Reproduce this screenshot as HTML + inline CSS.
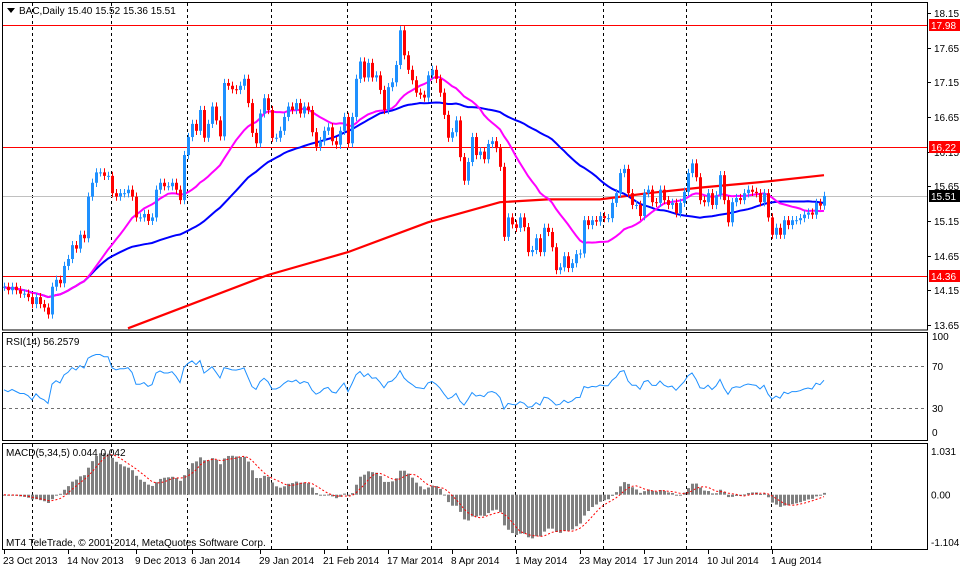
<!DOCTYPE html>
<html><head><meta charset="utf-8"><style>
html,body{margin:0;padding:0;background:#fff;}
svg{display:block;font-family:"Liberation Sans",Tahoma,sans-serif;font-size:10px;}
</style></head><body>
<svg id="c" width="967" height="568" viewBox="0 0 967 568" xmlns="http://www.w3.org/2000/svg">
<rect x="0" y="0" width="967" height="568" fill="#fff"/>
<g id="grid"></g>
<g id="main"></g>
<g id="rsi"></g>
<g id="macd"></g>
<g id="axes"></g>
<rect x="2.5" y="2.5" width="925" height="327.5" fill="none" stroke="#000"/>
<rect x="2.5" y="332.5" width="925" height="108" fill="none" stroke="#000"/>
<rect x="2.5" y="443.5" width="925" height="106" fill="none" stroke="#000"/>
<polygon points="7,8 15,8 11,13" fill="#000"/>
<text x="19" y="14" fill="#000">BAC,Daily  15.40 15.52 15.36 15.51</text>
<text x="6" y="345" fill="#000">RSI(14) 56.2579</text>
<text x="6" y="456" fill="#000">MACD(5,34,5) 0.044 0.042</text>
<text x="6" y="546" fill="#000">MT4 TeleTrade, © 2001-2014, MetaQuotes Software Corp.</text>
</svg>
<script>
const closes=[14.2,14.15,14.2,14.15,14.1,14.1,14.05,13.95,14.05,13.95,
13.9,13.8,14.2,14.3,14.25,14.5,14.6,14.8,14.75,14.95,
14.9,15.5,15.7,15.85,15.85,15.8,15.8,15.55,15.5,15.55,
15.55,15.6,15.5,15.2,15.2,15.25,15.15,15.2,15.6,15.7,
15.65,15.65,15.7,15.6,15.45,16.1,16.36,16.55,16.45,16.75,
16.35,16.55,16.8,16.6,16.37,17.14,17.1,17.05,17.04,17.1,
17.2,16.85,16.42,16.27,16.7,16.92,16.75,
16.35,16.35,16.45,16.65,16.8,16.75,16.85,16.7,16.8,16.75,
16.43,16.22,16.3,16.45,16.5,16.3,16.25,16.45,16.65,16.27,
16.65,17.2,17.45,17.22,17.43,17.22,17.25,17.04,16.75,17.08,
17.15,17.4,17.9,17.54,17.33,17.18,17.0,16.97,16.93,17.25,
17.33,17.2,17.0,16.68,16.35,16.43,16.6,16.07,15.73,16.0,
16.36,16.1,16.15,16.04,16.26,16.3,16.2,15.93,14.92,15.2,
15.1,15.05,15.2,15.06,14.7,14.73,14.9,14.7,15.05,
14.99,14.77,14.44,14.48,14.64,14.47,14.54,14.67,14.68,15.16,
15.09,15.16,15.14,15.22,15.19,15.19,15.41,15.55,15.84,15.9,
15.55,15.38,15.38,15.22,15.55,15.6,15.42,15.41,15.6,15.45,
15.38,15.41,15.26,15.41,15.57,15.84,15.98,15.78,15.45,15.42,
15.55,15.38,15.52,15.81,15.45,15.13,15.42,15.48,15.45,15.55,
15.6,15.57,15.55,15.42,15.55,15.2,14.95,15.05,14.95,15.16,
15.09,15.16,15.16,15.19,15.24,15.27,15.24,15.41,15.37,15.51];
const ma200Idx=[31,66,86,106,124,136,149,161,174,191,205];
const ma200Val=[13.6,14.37,14.7,15.13,15.42,15.46,15.46,15.55,15.63,15.72,15.81];
const priceTicks=[18.15,17.65,17.15,16.65,16.15,15.65,15.15,14.65,14.15,13.65];
const hLines=[17.98,16.22,14.36];
const lastPrice=15.51;
const dateLabels=["23 Oct 2013","14 Nov 2013","9 Dec 2013","6 Jan 2014","29 Jan 2014","21 Feb 2014","17 Mar 2014","8 Apr 2014","1 May 2014","23 May 2014","17 Jun 2014","10 Jul 2014","1 Aug 2014"];
const dateIdx=[0,16,33,47,64,80,96,112,128,144,160,176,192];
const gridX=[32,111,187,271,347,431,515,603,686,771,871];
const rsiLevels=[70,30];
const macdTicks=[1.031,0,-1.104];

const NS="http://www.w3.org/2000/svg";
function mk(tag,attrs,parent){const e=document.createElementNS(NS,tag);for(const k in attrs)e.setAttribute(k,attrs[k]);parent.appendChild(e);return e;}
const xOf=i=>4+i*4;
const yP=p=>13+(18.15-p)*69.3;
const yR=v=>439.5-v*1.05;
const yM=v=>494.7-v*43;
const G=document.getElementById('grid'),M=document.getElementById('main'),R=document.getElementById('rsi'),D=document.getElementById('macd'),A=document.getElementById('axes');

gridX.forEach(x=>{[[3,330],[333,440],[444,549]].forEach(r=>{
 const l=mk('line',{x1:x+.5,x2:x+.5,y1:r[0],y2:r[1],stroke:'#000','stroke-dasharray':'3,3'},G);
 
 
});});

const lp=mk('line',{x1:3,x2:927,y1:Math.round(yP(lastPrice))+.5,y2:Math.round(yP(lastPrice))+.5,stroke:'#c0c0c0'},M);


hLines.forEach(v=>{
 const l=mk('line',{x1:3,x2:927,y1:Math.round(yP(v))+.5,y2:Math.round(yP(v))+.5,stroke:'#ff0000'},M);
 
 
});

function sma(arr,n){return arr.map((_,i)=>{const s=Math.max(0,i-n+1);let t=0;for(let j=s;j<=i;j++)t+=arr[j];return t/(i-s+1);});}
function poly(vals,yf,color,w,parent,name,dash){
 const pts=vals.map((v,i)=>v==null?null:xOf(i)+','+yf(v).toFixed(1)).filter(p=>p).join(' ');
 const p=mk('polyline',{points:pts,fill:'none',stroke:color,'stroke-width':w},parent);
 if(dash)p.setAttribute('stroke-dasharray',dash);
 
 
}
{const pts=ma200Idx.map((ix,k)=>xOf(ix)+','+yP(ma200Val[k]).toFixed(1)).join(' ');
 const p=mk('polyline',{points:pts,fill:'none',stroke:'#ff0000','stroke-width':2.2},M);
 
 }
poly(sma(closes,50),yP,'#0000ff',2,M,'ma-50');
poly(sma(closes,21),yP,'#ff00ff',2,M,'ma-21');

closes.forEach((c,i)=>{
 const o=i===0?c:closes[i-1];
 const hi=Math.max(o,c)+0.06,lo=Math.min(o,c)-0.06;
 const col=c>=o?'#1e90ff':'#ff0000';
 const x=xOf(i);
 const g=mk('g',{},M);
 
 
 mk('line',{x1:x+.5,x2:x+.5,y1:yP(hi),y2:yP(lo),stroke:col},g);
 const t=yP(Math.max(o,c)),b=yP(Math.min(o,c));
 mk('rect',{x:x-1,y:t,width:3,height:Math.max(1,b-t),fill:col},g);
});

function rsi(arr,n){const out=[];let ag=0.045,al=0.05;for(let i=0;i<arr.length;i++){if(i>0){const d=arr[i]-arr[i-1];const g=Math.max(d,0),l=Math.max(-d,0);ag=(ag*(n-1)+g)/n;al=(al*(n-1)+l)/n;}out.push(al===0?100:100-100/(1+ag/al));}return out;}
rsiLevels.forEach(v=>{const l=mk('line',{x1:3,x2:927,y1:Math.round(yR(v))+.5,y2:Math.round(yR(v))+.5,stroke:'#707070','stroke-dasharray':'3,3'},R);
 
 });
poly(rsi(closes,14),yR,'#1e90ff',1,R,'rsi-line');

function ema(arr,n){const k=2/(n+1);const o=[];arr.forEach((v,i)=>o.push(i===0?v:o[i-1]+k*(v-o[i-1])));return o;}
const e5=ema(closes,5),e34=ema(closes,34);
const macdMain=closes.map((_,i)=>e5[i]-e34[i]);
const sig=sma(macdMain,5);
macdMain.forEach((v,i)=>{const y0=yM(0),y1=yM(v);
 const r=mk('rect',{x:xOf(i)-1,y:Math.min(y0,y1),width:3,height:Math.max(1,Math.abs(y1-y0)),fill:'#808080'},D);
 
 });
poly(sig,yM,'#ff0000',1,D,'macd-signal','2,2');

priceTicks.forEach(v=>{const y=Math.round(yP(v));
 const t=mk('line',{x1:927,x2:931,y1:y+.5,y2:y+.5,stroke:'#000'},A);
 
 
 const tx=mk('text',{x:934,y:y+4,fill:'#000'},A);tx.textContent=v.toFixed(2);
 
 });
hLines.concat([lastPrice]).forEach((v,k)=>{const y=Math.round(yP(v));
 const r=mk('rect',{x:929,y:y-6,width:31,height:12,fill:k===3?'#000':'#ff0000'},A);
 
 
 const tx=mk('text',{x:931,y:y+4,fill:'#fff'},A);tx.textContent=v.toFixed(2);
 
 });
[[100,'100'],[70,'70'],[30,'30'],[0,'0']].forEach(a=>{const y=Math.max(340,Math.min(436,yR(a[0])+4));
 const tx=mk('text',{x:932,y:y,fill:'#000'},A);tx.textContent=a[1];
 
 });
macdTicks.forEach(v=>{const y=Math.max(455,Math.min(547,yM(v)+4));
 const tx=mk('text',{x:931,y:y,fill:'#000'},A);tx.textContent=v===0?'0.00':v.toFixed(3);
 
 });
dateLabels.forEach((d,k)=>{const x=xOf(dateIdx[k]);
 const t=mk('line',{x1:x+.5,x2:x+.5,y1:550,y2:554,stroke:'#000'},A);
 
 
 const tx=mk('text',{x:x-1,y:564,fill:'#000'},A);tx.textContent=d;
 
 });
</script>
</body></html>
